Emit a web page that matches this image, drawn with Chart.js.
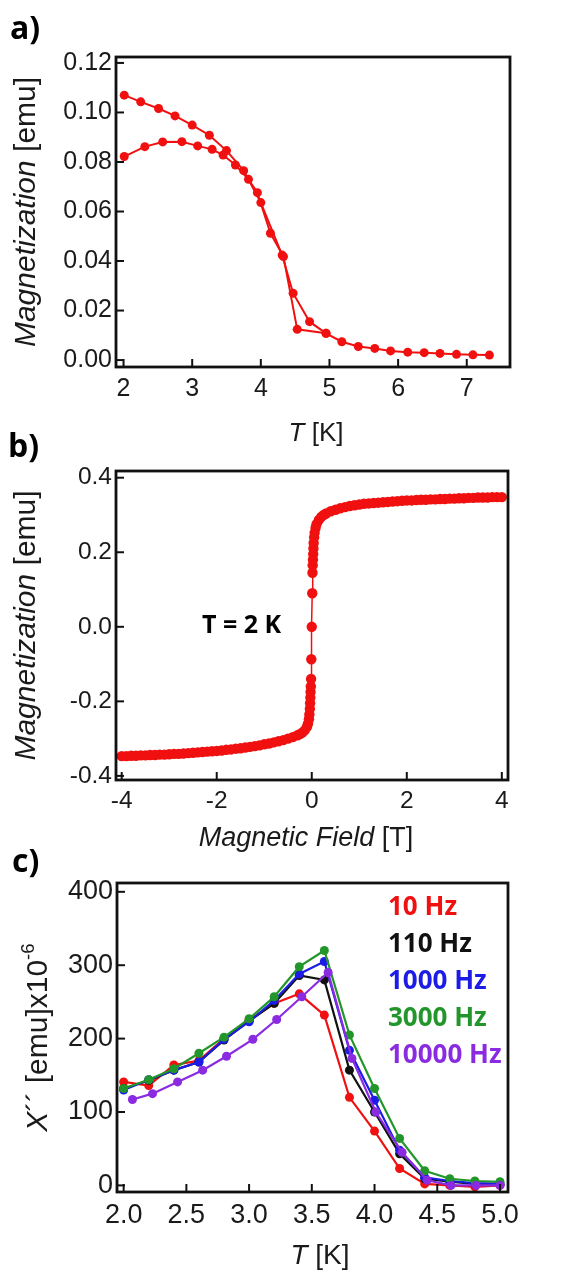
<!DOCTYPE html>
<html>
<head>
<meta charset="utf-8">
<script src="https://cdn.jsdelivr.net/npm/chart.js@4.4.1/dist/chart.umd.min.js"></script>
<style>
  body { margin: 0; background: #fff; }
  #wrap { position: relative; width: 561px; height: 1271px; }
  #wrap canvas { position: absolute; left: 0; top: 0; }
</style>
</head>
<body>
<div id="wrap">
  <canvas id="chartA" width="561" height="1271"></canvas>
  <canvas id="chartB" width="561" height="1271"></canvas>
  <canvas id="chartC" width="561" height="1271"></canvas>
</div>
<script>
// a) magnetization vs temperature, two branches
const upperT = [2.01, 2.25, 2.51, 2.75, 3.0, 3.25, 3.5, 3.75, 4.0, 4.31, 4.47, 4.71, 4.95, 5.18, 5.42, 5.66, 5.89, 6.14, 6.38, 6.61, 6.85, 7.09, 7.33]
const upperM = [0.107, 0.1043, 0.1016, 0.0986, 0.0949, 0.0908, 0.0846, 0.0765, 0.0636, 0.0424, 0.027, 0.0155, 0.0108, 0.0074, 0.0055, 0.0047, 0.0037, 0.0032, 0.003, 0.0027, 0.0023, 0.0021, 0.002]
const lowerT = [2.01, 2.31, 2.57, 2.85, 3.08, 3.29, 3.45, 3.63, 3.82, 3.95, 4.14, 4.33, 4.53, 4.95]
const lowerM = [0.0822, 0.0862, 0.0881, 0.0882, 0.0865, 0.0851, 0.0828, 0.0788, 0.073, 0.0676, 0.0512, 0.0418, 0.0124, 0.0108]
const aXTicks = [2, 3, 4, 5, 6, 7]
const aXLabels = ["2", "3", "4", "5", "6", "7"]
const aYTicks = [0, 0.02, 0.04, 0.06, 0.08, 0.1, 0.12]
const aYLabels = ["0.00", "0.02", "0.04", "0.06", "0.08", "0.10", "0.12"]

// b) hysteresis at 2 K
const bField = [-4.0, -3.9, -3.8, -3.7, -3.6, -3.5, -3.4, -3.3, -3.2, -3.1, -3.0, -2.9, -2.8, -2.7, -2.6, -2.5, -2.4, -2.3, -2.2, -2.1,
  -2.0, -1.9, -1.8, -1.7, -1.6, -1.5, -1.4, -1.3, -1.2, -1.1, -1.0, -0.9, -0.8, -0.7, -0.6, -0.5, -0.4, -0.3,
  -0.25, -0.2, -0.15, -0.1, -0.08, -0.06, -0.05, -0.04, -0.035, -0.03, -0.025, -0.02, -0.015, -0.01, 0,
  0.01, 0.015, 0.02, 0.025, 0.03, 0.035, 0.04, 0.05, 0.06, 0.08, 0.1, 0.15, 0.2, 0.25,
  0.3, 0.4, 0.5, 0.6, 0.7, 0.8, 0.9, 1.0, 1.1, 1.2, 1.3, 1.4, 1.5, 1.6, 1.7, 1.8, 1.9, 2.0,
  2.1, 2.2, 2.3, 2.4, 2.5, 2.6, 2.7, 2.8, 2.9, 3.0, 3.1, 3.2, 3.3, 3.4, 3.5, 3.6, 3.7, 3.8, 3.9, 4.0]
const bMoment = [-0.347, -0.347, -0.346, -0.346, -0.345, -0.345, -0.344, -0.344, -0.343, -0.343, -0.342, -0.341, -0.341, -0.340, -0.339, -0.338, -0.337, -0.336, -0.335, -0.334,
  -0.333, -0.332, -0.330, -0.329, -0.327, -0.326, -0.324, -0.322, -0.320, -0.318, -0.315, -0.313, -0.310, -0.307, -0.304, -0.300, -0.296, -0.291,
  -0.288, -0.284, -0.278, -0.268, -0.260, -0.248, -0.235, -0.220, -0.205, -0.190, -0.175, -0.160, -0.140, -0.087, 0,
  0.090, 0.145, 0.165, 0.180, 0.195, 0.210, 0.225, 0.240, 0.252, 0.265, 0.275, 0.287, 0.295, 0.300,
  0.304, 0.310, 0.314, 0.318, 0.321, 0.324, 0.326, 0.328, 0.330, 0.331, 0.332, 0.333, 0.334, 0.335, 0.336, 0.337, 0.338, 0.339,
  0.339, 0.340, 0.341, 0.341, 0.342, 0.342, 0.343, 0.343, 0.344, 0.344, 0.345, 0.345, 0.346, 0.346, 0.347, 0.347, 0.347, 0.348, 0.348, 0.348]
const bXTicks = [-4, -2, 0, 2, 4]
const bXLabels = ["-4", "-2", "0", "2", "4"]
const bYTicks = [-0.4, -0.2, 0, 0.2, 0.4]
const bYLabels = ["-0.4", "-0.2", "0.0", "0.2", "0.4"]

// c) out-of-phase ac susceptibility
const cTemp = [2.0, 2.2, 2.4, 2.6, 2.8, 3.0, 3.2, 3.4, 3.6, 3.8, 4.0, 4.2, 4.4, 4.6, 4.8, 5.0]
const cTempHigh = [2.07, 2.23, 2.43, 2.63, 2.82, 3.03, 3.22, 3.42, 3.63, 3.82, 4.01, 4.22, 4.42, 4.61, 4.81, 5.0]
const chi10 = [141, 136, 164, 170, 200, 225, 248, 261, 232, 120, 74, 23, 2, 0, -2, 0]
const chi110 = [132, 143, 157, 168, 198, 224, 248, 286, 280, 157, 100, 43, 9, 5, 2, 2]
const chi1000 = [130, 144, 157, 168, 199, 223, 252, 288, 305, 184, 116, 48, 11, 6, 3, 2]
const chi3000 = [132, 144, 159, 180, 202, 227, 257, 298, 320, 205, 132, 64, 20, 9, 6, 5]
const chi10000 = [117, 125, 141, 157, 176, 199, 226, 257, 290, 173, 100, 45, 7, 0, 0, 0]
const freqLabels = ["10 Hz", "110 Hz", "1000 Hz", "3000 Hz", "10000 Hz"]
const freqColors = ["#f01010", "#111111", "#1c1ce6", "#22962a", "#8a2be2"]
const cXTicks = [2.0, 2.5, 3.0, 3.5, 4.0, 4.5, 5.0]
const cXLabels = ["2.0", "2.5", "3.0", "3.5", "4.0", "4.5", "5.0"]
const cYTicks = [0, 100, 200, 300, 400]
const cYLabels = ["0", "100", "200", "300", "400"]

const PAGE_W = 561
const PAGE_H = 1271
const X_AXIS_H = 40
const SANS = "'Liberation Sans', Arial, sans-serif"
const BOLD = "'Open Sans', 'DejaVu Sans', sans-serif"
const INK = "#1a1a1a"
const RED = "#f01010"

function toPoints(xs, ys) {
  return xs.map((x, i) => ({ x, y: ys[i] }))
}

// draws a run of text pieces (italic / superscript) centred on 0
function drawSegs(ctx, segs, size) {
  let total = 0
  const parts = segs.map((s) => {
    const fs = s.sup ? size * 0.62 : size
    const font = (s.italic ? "italic " : "") + fs + "px " + SANS
    ctx.font = font
    const w = ctx.measureText(s.text).width
    total += w
    return { text: s.text, sup: s.sup, font, w }
  })
  let x = -total / 2
  parts.forEach((p) => {
    ctx.font = p.font
    ctx.fillText(p.text, x, p.sup ? -size * 0.45 : 0)
    x += p.w
  })
}

const decorPlugin = {
  id: "decor",
  afterDraw(chart, args, opts) {
    const { ctx, chartArea: a, scales } = chart
    ctx.save()
    ctx.strokeStyle = "#111"
    ctx.lineWidth = 2
    scales.x.ticks.forEach((t) => {
      const px = scales.x.getPixelForValue(t.value)
      ctx.beginPath()
      ctx.moveTo(px, a.bottom)
      ctx.lineTo(px, a.bottom - 8)
      ctx.stroke()
    })
    scales.y.ticks.forEach((t) => {
      const py = scales.y.getPixelForValue(t.value)
      ctx.beginPath()
      ctx.moveTo(a.left, py)
      ctx.lineTo(a.left + 8, py)
      ctx.stroke()
    })
    ctx.lineWidth = 2.8
    ctx.strokeRect(a.left, a.top, a.right - a.left, a.bottom - a.top)

    ctx.fillStyle = INK
    ctx.textAlign = "left"
    ctx.textBaseline = "alphabetic"
    const xt = opts.xTitle
    ctx.save()
    ctx.translate(xt.x, xt.y)
    drawSegs(ctx, xt.segs, xt.size)
    ctx.restore()
    const yt = opts.yTitle
    ctx.save()
    ctx.translate(yt.x, (a.top + a.bottom) / 2)
    ctx.rotate(-Math.PI / 2)
    drawSegs(ctx, yt.segs, yt.size)
    ctx.restore()

    ;(opts.texts || []).forEach((t) => {
      ctx.font = t.font
      ctx.fillStyle = t.color || INK
      ctx.fillText(t.text, t.x, t.y)
    })
    ctx.restore()
  },
}

function xAxis(min, max, vals, labels, size, pad) {
  return {
    type: "linear",
    min,
    max,
    afterBuildTicks: (s) => { s.ticks = vals.map((v) => ({ value: v })) },
    afterFit: (s) => { s.height = X_AXIS_H },
    grid: { display: false, drawTicks: false },
    border: { display: false },
    ticks: {
      autoSkip: false,
      maxRotation: 0,
      padding: pad,
      color: INK,
      font: { family: SANS, size },
      callback: (v, i) => labels[i],
    },
  }
}

function yAxis(min, max, vals, labels, size, width) {
  return {
    type: "linear",
    min,
    max,
    afterBuildTicks: (s) => { s.ticks = vals.map((v) => ({ value: v })) },
    afterFit: (s) => { s.width = width },
    grid: { display: false, drawTicks: false },
    border: { display: false },
    ticks: {
      autoSkip: false,
      padding: 4,
      color: INK,
      font: { family: SANS, size },
      callback: (v, i) => labels[i],
    },
  }
}

function makeChart(id, datasets, area, x, y, decor) {
  return new Chart(document.getElementById(id), {
    type: "scatter",
    data: { datasets },
    options: {
      responsive: false,
      animation: false,
      events: [],
      devicePixelRatio: 1,
      layout: {
        autoPadding: false,
        padding: { left: 0, top: area.top, right: PAGE_W - area.right, bottom: PAGE_H - area.bottom - X_AXIS_H },
      },
      scales: { x, y },
      plugins: { legend: { display: false }, tooltip: { enabled: false }, decor },
    },
    plugins: [decorPlugin],
  })
}

function series(points, color, radius, width) {
  return {
    data: points,
    showLine: true,
    borderColor: color,
    backgroundColor: color,
    borderWidth: width,
    pointRadius: radius,
    pointBorderWidth: 0,
    pointBackgroundColor: color,
  }
}

// panel a
makeChart(
  "chartA",
  [series(toPoints(upperT, upperM), RED, 4.5, 2), series(toPoints(lowerT, lowerM), RED, 4.5, 2)],
  { left: 116, right: 510, top: 57, bottom: 367 },
  xAxis(1.89, 7.63, aXTicks, aXLabels, 25, 7),
  yAxis(-0.0028, 0.1224, aYTicks, aYLabels, 25, 116),
  {
    xTitle: { x: 316, y: 441, size: 26, segs: [{ text: "T", italic: true }, { text: " [K]" }] },
    yTitle: { x: 35, size: 30, segs: [{ text: "Magnetization", italic: true }, { text: " [emu]" }] },
    texts: [{ text: "a)", x: 10, y: 39, font: "bold 32px " + BOLD, color: "#000" }],
  }
)

// panel b
makeChart(
  "chartB",
  [series(toPoints(bField, bMoment), RED, 5.2, 1.5)],
  { left: 116, right: 508, top: 471, bottom: 780 },
  xAxis(-4.12, 4.13, bXTicks, bXLabels, 24.5, 7),
  yAxis(-0.411, 0.418, bYTicks, bYLabels, 24.5, 116),
  {
    xTitle: { x: 306, y: 846, size: 27, segs: [{ text: "Magnetic Field", italic: true }, { text: " [T]" }] },
    yTitle: { x: 35, size: 30, segs: [{ text: "Magnetization", italic: true }, { text: " [emu]" }] },
    texts: [
      { text: "b)", x: 8, y: 457, font: "bold 32px " + BOLD, color: "#000" },
      { text: "T = 2 K", x: 202, y: 633, font: "bold 25px " + BOLD, color: "#000" },
    ],
  }
)

// panel c
const chiSeries = [chi10, chi110, chi1000, chi3000, chi10000]
const cDatasets = chiSeries.map((vals, i) =>
  series(toPoints(i === 4 ? cTempHigh : cTemp, vals), freqColors[i], 4.5, 2.2)
).reverse()
const legendTexts = freqLabels.map((label, i) => ({
  text: label, x: 388, y: 915 + i * 36.9, font: "bold 26px " + BOLD, color: freqColors[i],
}))
makeChart(
  "chartC",
  cDatasets,
  { left: 117, right: 508, top: 883, bottom: 1192 },
  xAxis(1.947, 5.064, cXTicks, cXLabels, 27, 7),
  yAxis(-9, 412, cYTicks, cYLabels, 27, 117),
  {
    xTitle: { x: 320, y: 1264, size: 28, segs: [{ text: "T", italic: true }, { text: " [K]" }] },
    yTitle: { x: 47, size: 30, segs: [{ text: "X", italic: true }, { text: "´´ [emu]x10" }, { text: "-6", sup: true }] },
    texts: [{ text: "c)", x: 12, y: 872, font: "bold 32px " + BOLD, color: "#000" }].concat(legendTexts),
  }
)
</script>
</body>
</html>
